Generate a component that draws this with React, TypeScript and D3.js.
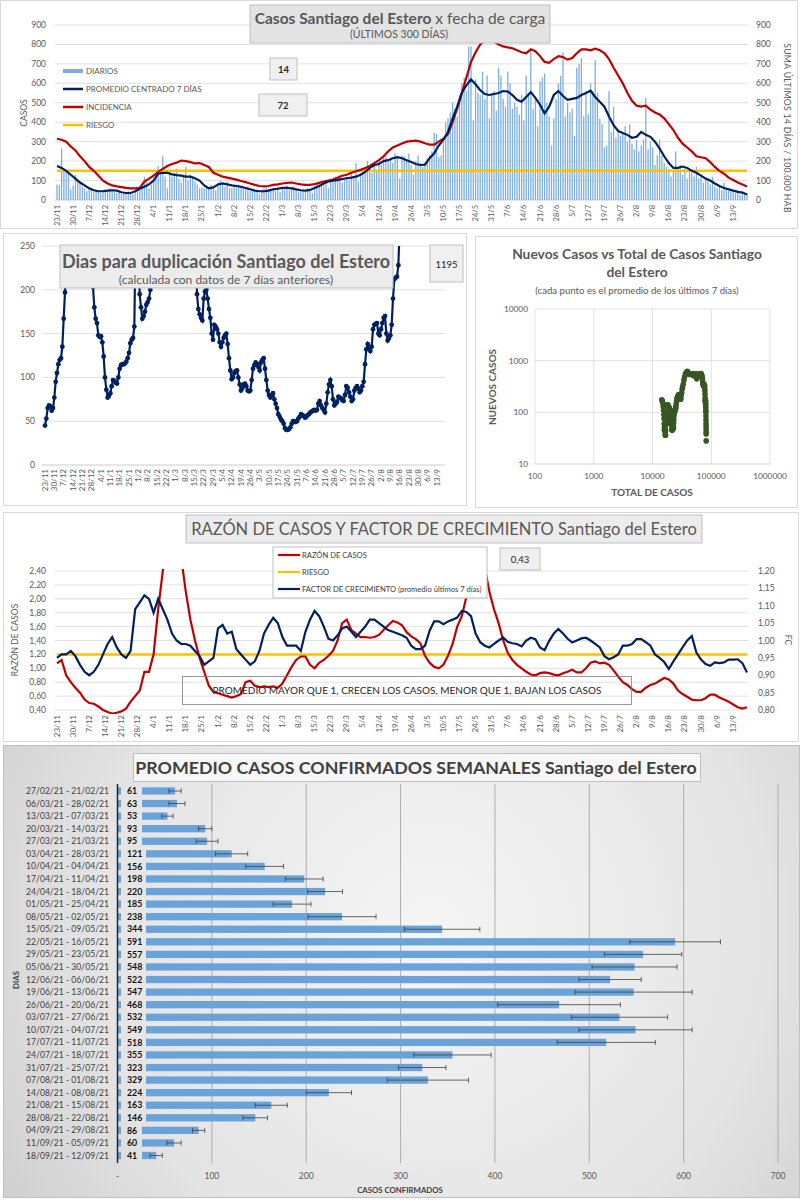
import * as d3 from 'd3';

// día 0 = 23/11/2020
const START = new Date(2020, 10, 23);

// casos diarios por fecha de carga (día 0..300)
const dailyCases = [
  80, 75, 265, 150, 145, 140, 55,
  75, 130, 100, 85, 70, 60, 45,
  60, 55, 40, 50, 45, 35, 40,
  55, 50, 60, 45, 40, 35, 50,
  30, 40, 35, 45, 40, 30, 45,
  50, 55, 70, 120, 95, 60, 80,
  100, 125, 175, 160, 225, 120, 60,
  150, 120, 140, 160, 110, 90, 130,
  170, 100, 130, 120, 95, 80, 60,
  65, 60, 75, 55, 80, 60, 50,
  90, 100, 85, 70, 95, 60, 60,
  75, 65, 80, 70, 60, 55, 70,
  45, 55, 40, 50, 30, 45, 60,
  65, 55, 50, 60, 45, 70, 40,
  60, 55, 75, 50, 65, 70, 55,
  40, 50, 55, 45, 60, 50, 35,
  70, 85, 80, 95, 75, 100, 60,
  110, 95, 120, 100, 130, 90, 105,
  120, 100, 140, 110, 190, 95, 125,
  150, 170, 200, 160, 140, 180, 155,
  200, 180, 220, 230, 195, 215, 190,
  240, 220, 110, 230, 225, 210, 240,
  180, 130, 200, 230, 190, 170, 195,
  215, 230, 250, 345, 340, 220, 230,
  300, 400, 420, 450, 500, 470, 430,
  540, 600, 630, 560, 790, 790, 410,
  620, 550, 540, 660, 520, 640, 420,
  550, 560, 460, 680, 640, 520, 480,
  660, 600, 470, 500, 480, 440, 540,
  410, 640, 550, 770, 470, 520, 380,
  610, 630, 650, 500, 430, 280, 420,
  520, 600, 640, 760, 430, 500, 450,
  470, 330, 680, 700, 730, 430, 560,
  440, 600, 560, 720, 550, 420, 390,
  270, 280, 560, 350, 480, 320, 360,
  330, 350, 380, 300, 390, 290, 260,
  310, 250, 280, 310, 525, 260, 300,
  270, 180, 230, 310, 230, 190, 170,
  160, 120, 150, 250, 170, 180, 130,
  160, 110, 150, 140, 120, 170, 110,
  120, 90, 110, 100, 80, 120, 70,
  60, 70, 50, 90, 60, 50, 55,
  40, 35, 50, 25, 45, 30, 35,
];

// promedio centrado 7 días (cada 2 días, día 0..300)
const avg7 = [
  175, 165, 150, 130, 110, 90, 75, 60, 50, 45, 45, 48, 50, 48, 40, 36, 36, 45, 58, 68,
  80, 100, 135, 140, 140, 132, 128, 125, 120, 120, 112, 100, 75, 60, 65, 80, 85, 80, 75, 72,
  68, 62, 55, 48, 45, 45, 48, 55, 58, 62, 62, 60, 55, 50, 48, 52, 62, 72, 85, 95,
  100, 102, 108, 112, 115, 120, 130, 145, 165, 180, 185, 200, 205, 215, 220, 215, 205, 195, 185, 180,
  182, 215, 240, 280, 310, 350, 420, 480, 550, 590, 620, 595, 565, 545, 540, 545, 550, 560, 558, 540,
  515, 505, 530, 555, 525, 490, 445, 480, 540, 560, 535, 515, 520, 525, 540, 550, 562, 530, 505, 480,
  430, 385, 355, 345, 335, 320, 325, 350, 335, 325, 300, 265, 225, 190, 165, 165, 172, 165, 150, 140,
  125, 110, 100, 85, 72, 62, 55, 48, 42, 38, 28,
];

// incidencia: suma últimos 14 días / 100.000 hab (cada 2 días)
const incidence = [
  315, 310, 300, 275, 255, 225, 200, 170, 150, 125, 100, 85, 75, 70, 66, 62, 60, 60, 62, 95,
  110, 125, 145, 160, 175, 185, 192, 203, 200, 195, 188, 190, 180, 170, 140, 130, 120, 115, 110, 105,
  98, 92, 85, 78, 72, 70, 72, 78, 80, 85, 88, 90, 85, 80, 78, 78, 82, 88, 95, 100,
  105, 115, 125, 130, 140, 148, 155, 165, 175, 190, 205, 225, 250, 270, 280, 290, 300, 303, 305, 300,
  292, 285, 285, 300, 315, 340, 400, 470, 550, 630, 710, 760, 800, 820, 830, 815, 800, 790, 785, 780,
  770, 760, 755, 775, 765, 740, 710, 705, 725, 740, 735, 722, 730, 755, 775, 775, 770, 778, 770, 755,
  725, 680, 640, 600, 550, 510, 485, 480, 485, 465, 450, 440, 420, 390, 360, 320, 290, 270, 250, 225,
  220, 215, 195, 170, 150, 135, 115, 103, 90, 80, 70,
];
const riskIncidence = 150;

// días para duplicación (diario, día 0..266)
const doublingDays = [
  45, 53, 65, 68, 67, 62, 65, 77, 95, 105, 115, 120, 122, 135, 167, 197, 230,
  280, 320, 360, 400, 450, 500, 550, 600, 620, 600, 560, 520, 480, 440, 400, 360, 320, 290,
  255, 203, 180, 167, 162, 148, 146, 147, 140, 124, 100, 86, 77, 79, 82, 90, 97, 96, 94, 93,
  100, 110, 114, 115, 115, 116, 118, 122, 128, 139, 143, 145, 158, 270,
  300, 260, 195, 180, 167, 170, 175, 183, 186, 190, 200, 270,
  300, 340, 380, 420, 460, 500, 540, 580, 620, 660, 700, 720, 740, 760, 780, 800, 800,
  780, 760, 720, 680, 640, 600, 560, 520, 480, 440, 400, 360, 330, 300, 280, 260,
  195, 178, 172, 168, 165, 190, 198, 200, 190, 178, 168, 150, 143, 160, 158, 155, 150, 140,
  135, 140, 145, 148, 150, 138, 122, 108, 98, 100, 105, 107, 108, 100, 92, 85, 88, 92,
  93, 90, 85, 84, 85, 97, 110, 114, 117, 115, 112, 108, 117, 120, 122, 110, 97, 85,
  80, 77, 80, 82, 75, 70, 65, 58, 55, 52, 50, 47, 42, 40, 40, 41, 43, 47, 50, 50,
  49, 50, 53, 55, 58, 57, 56, 54, 55, 57, 58, 60, 61, 62, 63, 62, 63, 70, 73, 68,
  65, 63, 60, 70, 83, 92, 97, 90, 75, 68, 70, 72, 78, 77, 76, 74, 73, 80, 90, 88,
  83, 78, 73, 75, 85, 88, 90, 87, 83, 85, 90, 95, 115, 132, 138, 134, 130, 135, 155, 160,
  161, 162, 150, 148, 155, 162, 168, 170, 150, 142, 145, 148, 160, 190, 212, 214, 215, 228, 270,
];

// razón de casos (eje izq.) y factor de crecimiento (eje der.), cada 2 días
const caseRatio = [
  1.07, 1.12, 0.9, 0.8, 0.72, 0.65, 0.55, 0.5, 0.49, 0.45, 0.4, 0.37, 0.35, 0.36, 0.38, 0.42, 0.52, 0.6, 0.68, 0.95,
  0.95, 1.2, 1.85, 2.4, 2.9, 3.1, 3.0, 2.6, 2.1, 1.7, 1.4, 1.15, 0.95, 0.75, 0.66, 0.64, 0.62, 0.6, 0.58, 0.6,
  0.63, 0.8, 0.82, 0.75, 0.73, 0.74, 0.73, 0.74, 0.72, 0.78, 0.9, 1.02, 1.12, 1.17, 1.17, 1.05, 1.0, 1.08, 1.12, 1.18,
  1.25, 1.4, 1.65, 1.7, 1.55, 1.5, 1.45, 1.45, 1.44, 1.45, 1.48, 1.55, 1.62, 1.68, 1.66, 1.62, 1.52, 1.46, 1.42, 1.36,
  1.18, 1.08, 1.02, 1.0, 1.05, 1.18, 1.35, 1.6, 1.75, 2.03, 2.2, 2.45, 2.55, 2.45, 2.1, 1.85, 1.65, 1.4, 1.22, 1.12,
  1.05, 1.0, 0.95, 0.91, 0.9, 0.93, 0.94, 0.93, 0.91, 0.9, 0.93, 0.95, 0.98, 0.94, 0.94, 1.0, 1.08, 1.1, 1.07, 1.08,
  1.05, 0.97, 0.88, 0.8, 0.76, 0.7, 0.66, 0.66, 0.72, 0.76, 0.78, 0.82, 0.86, 0.84, 0.78, 0.68, 0.63, 0.59, 0.55, 0.54,
  0.54, 0.57, 0.62, 0.62, 0.58, 0.55, 0.52, 0.48, 0.44, 0.42, 0.44,
];
const growthFactor = [
  0.95, 0.96, 0.96, 0.97, 0.955, 0.93, 0.91, 0.9, 0.91, 0.93, 0.96, 0.99, 1.01, 0.98, 0.96, 0.95, 0.97, 1.09, 1.11, 1.13,
  1.12, 1.08, 1.12, 1.09, 1.06, 1.02, 1.0, 0.99, 0.99, 0.985, 0.97, 0.955, 0.93, 0.94, 0.95, 1.035, 1.045, 1.02, 1.025, 0.975,
  0.96, 0.945, 0.93, 0.94, 0.97, 1.02, 1.045, 1.065, 1.05, 1.01, 0.985, 0.985, 0.985, 0.97, 1.025, 1.06, 1.085, 1.07, 1.04, 1.005,
  1.0, 1.015, 1.035, 1.04, 1.025, 1.01, 1.025, 1.04, 1.06, 1.06, 1.05, 1.04, 1.03, 1.025, 1.02, 1.015, 1.008, 0.985, 0.975, 0.975,
  0.985, 1.028, 1.055, 1.055, 1.047, 1.055, 1.06, 1.066, 1.085, 1.082, 1.07, 1.02, 0.995, 0.985, 0.98, 0.99, 1.0, 1.008, 0.996, 0.992,
  0.99, 0.983, 1.0, 1.008, 1.004, 0.98, 0.972, 0.999, 1.02, 1.033, 1.02, 1.005, 0.994, 1.0, 1.006, 1.008, 1.0, 0.99, 0.98, 0.955,
  0.946, 0.952, 0.96, 0.985, 0.985, 0.99, 1.004, 1.004, 0.995, 0.985, 0.96, 0.95, 0.938, 0.918, 0.94, 0.96, 0.98, 1.0, 1.013, 0.965,
  0.945, 0.932, 0.927, 0.937, 0.935, 0.937, 0.945, 0.945, 0.946, 0.935, 0.908,
];
const riskRatio = 1.2;

// promedio semanal de casos confirmados
const weekLabels = [
  '27/02/21 - 21/02/21', '06/03/21 - 28/02/21', '13/03/21 - 07/03/21', '20/03/21 - 14/03/21',
  '27/03/21 - 21/03/21', '03/04/21 - 28/03/21', '10/04/21 - 04/04/21', '17/04/21 - 11/04/21',
  '24/04/21 - 18/04/21', '01/05/21 - 25/04/21', '08/05/21 - 02/05/21', '15/05/21 - 09/05/21',
  '22/05/21 - 16/05/21', '29/05/21 - 23/05/21', '05/06/21 - 30/05/21', '12/06/21 - 06/06/21',
  '19/06/21 - 13/06/21', '26/06/21 - 20/06/21', '03/07/21 - 27/06/21', '10/07/21 - 04/07/21',
  '17/07/21 - 11/07/21', '24/07/21 - 18/07/21', '31/07/21 - 25/07/21', '07/08/21 - 01/08/21',
  '14/08/21 - 08/08/21', '21/08/21 - 15/08/21', '28/08/21 - 22/08/21', '04/09/21 - 29/08/21',
  '11/09/21 - 05/09/21', '18/09/21 - 12/09/21',
];
const weekAvg = [61, 63, 53, 93, 95, 121, 156, 198, 220, 185, 238, 344, 591, 557, 548, 522, 547, 468, 532, 549, 518, 355, 323, 329, 224, 163, 146, 86, 60, 41];
const weekErr = [6.5, 8.5, 6, 7, 11.5, 17, 20, 20, 18.5, 20, 36, 40, 48, 41, 45, 33, 62, 65, 51, 60, 52, 41, 25, 43, 24, 17, 13, 6.5, 7.5, 6.5];

const tickDays = d3.range(0, 295, 7);
const FONT = 'Lato, "Open Sans", sans-serif';
const GREY = '#595959';
const NAVY = '#002060';
const RED = '#c00000';
const ORANGE = '#ffc000';

function dayLabel(d: number) {
  const dt = d3.timeDay.offset(START, d);
  return `${dt.getDate()}/${dt.getMonth() + 1}`;
}

function DateTicks({ x, y, size = 7.5 }: { x: (d: number) => number; y: number; size?: number }) {
  return (
    <g fontSize={size} fill={GREY}>
      {tickDays.map((d) => (
        <text key={d} transform={`translate(${x(d) + 2.5},${y}) rotate(-90)`} textAnchor="end">
          {dayLabel(d)}
        </text>
      ))}
    </g>
  );
}

function Box({ x, y, w, h, fill = '#f0f0f0', stroke = '#bfbfbf' }: any) {
  return <rect x={x} y={y} width={w} height={h} fill={fill} stroke={stroke} strokeWidth={1} />;
}

function CasesPanel() {
  const x = d3.scaleLinear().domain([0, 300]).range([57, 747]);
  const y = d3.scaleLinear().domain([0, 900]).range([200, 25]);
  const line = d3.line<number>().x((_, i) => x(i * 2)).y((v) => y(v));
  const ticks = d3.range(0, 901, 100);
  return (
    <g>
      <rect x={0.5} y={0.5} width={797} height={228} fill="#fff" stroke="#d9d9d9" />
      <defs>
        <clipPath id="clip1">
          <rect x={50} y={24} width={705} height={180} />
        </clipPath>
      </defs>
      {ticks.map((t) => (
        <g key={t}>
          <line x1={55} x2={748} y1={y(t)} y2={y(t)} stroke={t === 0 ? '#bfbfbf' : '#d9d9d9'} strokeWidth={0.8} />
          <text x={46} y={y(t) + 3} textAnchor="end" fontSize={8.5} fill={GREY}>{t}</text>
          <text x={756} y={y(t) + 3} fontSize={8.5} fill={GREY}>{t}</text>
        </g>
      ))}
      <g clipPath="url(#clip1)">
        {dailyCases.map((v, d) => (
          <rect key={d} x={x(d) - 0.65} y={y(v)} width={1.3} height={y(0) - y(v)} fill="#7fb0dd" />
        ))}
        <line x1={x(0)} x2={x(300)} y1={y(riskIncidence)} y2={y(riskIncidence)} stroke={ORANGE} strokeWidth={2.5} />
        <path d={line(incidence) ?? ''} fill="none" stroke={RED} strokeWidth={2.2} />
        <path d={line(avg7) ?? ''} fill="none" stroke={NAVY} strokeWidth={2.2} />
      </g>
      <DateTicks x={x} y={205} />
      <text transform="translate(27,113) rotate(-90)" textAnchor="middle" fontSize={8.5} fill={GREY}>CASOS</text>
      <text transform="translate(784,128) rotate(90)" textAnchor="middle" fontSize={8.7} fill={GREY} letterSpacing={0.3}>
        SUMA  ÚLTIMOS 14 DÍAS / 100.000 HAB
      </text>
      <Box x={250} y={5} w={300} h={38} fill="#e3e3e3" />
      <text x={400} y={24} textAnchor="middle" fontSize={15.5} fill={GREY}>
        <tspan fontWeight="bold">Casos Santiago del Estero</tspan>
        <tspan>{' x fecha de carga'}</tspan>
      </text>
      <text x={399} y={38} textAnchor="middle" fontSize={10.5} fill={GREY}>(ÚLTIMOS 300 DÍAS)</text>
      <g fontSize={8} fill={GREY}>
        <rect x={63} y={69} width={20} height={4} fill="#7fb0dd" />
        <text x={86} y={74}>DIARIOS</text>
        <line x1={63} x2={83} y1={89} y2={89} stroke={NAVY} strokeWidth={2.5} />
        <text x={86} y={92}>PROMEDIO CENTRADO 7 DÍAS</text>
        <line x1={63} x2={83} y1={107} y2={107} stroke={RED} strokeWidth={2.5} />
        <text x={86} y={110}>INCIDENCIA</text>
        <line x1={63} x2={83} y1={125} y2={125} stroke={ORANGE} strokeWidth={2.5} />
        <text x={86} y={128}>RIESGO</text>
      </g>
      <Box x={270} y={58} w={27} h={22} />
      <text x={283.5} y={73} textAnchor="middle" fontSize={9.5} fontWeight="bold" fill="#262626">14</text>
      <Box x={259} y={94} w={48} h={22} />
      <text x={283} y={109} textAnchor="middle" fontSize={9.5} fontWeight="bold" fill="#262626">72</text>
    </g>
  );
}

function DoublingPanel() {
  const x = d3.scaleLinear().domain([0, 294]).range([45, 437]);
  const y = d3.scaleLinear().domain([0, 250]).range([465, 246]);
  const line = d3.line<number>().x((_, i) => x(i)).y((v) => y(v));
  return (
    <g>
      <rect x={3.5} y={233.5} width={463} height={272} fill="#fff" stroke="#d9d9d9" />
      <defs>
        <clipPath id="clip2">
          <rect x={38} y={246} width={410} height={222} />
        </clipPath>
      </defs>
      {d3.range(0, 251, 50).map((t) => (
        <g key={t}>
          <line x1={42} x2={445} y1={y(t)} y2={y(t)} stroke={t === 0 ? '#bfbfbf' : '#d9d9d9'} strokeWidth={0.8} />
          <text x={35} y={y(t) + 3} textAnchor="end" fontSize={8.5} fill={GREY}>{t}</text>
        </g>
      ))}
      <g clipPath="url(#clip2)">
        <path d={line(doublingDays) ?? ''} fill="none" stroke={NAVY} strokeWidth={2.2} />
        {doublingDays.map((v, i) => (
          <circle key={i} cx={x(i)} cy={y(v)} r={2.4} fill={NAVY} />
        ))}
      </g>
      <DateTicks x={x} y={469} size={8} />
      <Box x={60} y={245} w={333} h={43} fill="#ececec" />
      <text x={226} y={268} textAnchor="middle" fontSize={18} fontWeight="bold" fill={GREY}>
        Dias para duplicación Santiago del Estero
      </text>
      <text x={226} y={284} textAnchor="middle" fontSize={12} fill={GREY}>
        (calculada con datos de 7 días anteriores)
      </text>
      <Box x={430} y={245} w={33} h={37} />
      <text x={446.5} y={268} textAnchor="middle" fontSize={9.5} fill="#262626">1195</text>
    </g>
  );
}

function ScatterPanel() {
  const x = d3.scaleLog().domain([100, 1e6]).range([535, 770]);
  const y = d3.scaleLog().domain([10, 1e4]).range([464, 309]);
  const totals = d3.cumsum(dailyCases).map((v) => v + 14300);
  const pts = avg7.map((v, i) => [totals[Math.min(i * 2, totals.length - 1)], v]);
  const xt = [100, 1000, 10000, 100000, 1000000];
  const yt = [10, 100, 1000, 10000];
  return (
    <g>
      <rect x={475.5} y={236.5} width={322} height={271} fill="#fff" stroke="#d9d9d9" />
      {xt.map((t) => (
        <g key={t}>
          <line x1={x(t)} x2={x(t)} y1={y(1e4)} y2={y(10)} stroke="#d9d9d9" strokeWidth={0.8} />
          <text x={x(t)} y={479} textAnchor="middle" fontSize={8.3} fill={GREY}>{t}</text>
        </g>
      ))}
      {yt.map((t) => (
        <g key={t}>
          <line x1={x(100)} x2={x(1e6)} y1={y(t)} y2={y(t)} stroke={t === 10 ? '#bfbfbf' : '#d9d9d9'} strokeWidth={0.8} />
          <text x={528} y={y(t) + 3} textAnchor="end" fontSize={8.3} fill={GREY}>{t}</text>
        </g>
      ))}
      {pts.map(([tx, ty], i) => (
        <circle key={i} cx={x(tx)} cy={y(ty)} r={2.8} fill="#375623" />
      ))}
      <text x={637} y={259} textAnchor="middle" fontSize={13.8} fontWeight="bold" fill={GREY}>
        Nuevos Casos vs Total de Casos Santiago
      </text>
      <text x={637} y={277} textAnchor="middle" fontSize={13.8} fontWeight="bold" fill={GREY}>del Estero</text>
      <text x={637} y={294} textAnchor="middle" fontSize={9.6} fill={GREY}>
        (cada punto es el promedio de los últimos 7 días)
      </text>
      <text x={652} y={496} textAnchor="middle" fontSize={10} fontWeight="bold" fill={GREY}>TOTAL DE CASOS</text>
      <text transform="translate(496,387) rotate(-90)" textAnchor="middle" fontSize={10} fontWeight="bold" fill={GREY}>
        NUEVOS CASOS
      </text>
    </g>
  );
}

function RatioPanel() {
  const x = d3.scaleLinear().domain([0, 300]).range([57, 747]);
  const yl = d3.scaleLinear().domain([0.4, 2.4]).range([710, 571]);
  const yr = d3.scaleLinear().domain([0.8, 1.2]).range([710, 571]);
  const lineL = d3.line<number>().x((_, i) => x(i * 2)).y((v) => yl(v));
  const lineR = d3.line<number>().x((_, i) => x(i * 2)).y((v) => yr(v));
  const fmt = (v: number) => v.toFixed(2).replace('.', ',');
  return (
    <g>
      <rect x={3.5} y={512.5} width={795} height={229} fill="#fff" stroke="#d9d9d9" />
      <defs>
        <clipPath id="clip4">
          <rect x={50} y={569} width={705} height={145} />
        </clipPath>
      </defs>
      {d3.range(0.4, 2.41, 0.2).map((t) => (
        <g key={t}>
          <line x1={55} x2={748} y1={yl(t)} y2={yl(t)} stroke="#d9d9d9" strokeWidth={0.8} />
          <text x={46} y={yl(t) + 3} textAnchor="end" fontSize={8.5} fill={GREY}>{fmt(t)}</text>
        </g>
      ))}
      {d3.range(0.8, 1.201, 0.05).map((t) => (
        <text key={t} x={758} y={yr(t) + 3} fontSize={8.5} fill={GREY}>{fmt(t)}</text>
      ))}
      <g clipPath="url(#clip4)">
        <line x1={x(0)} x2={x(300)} y1={yl(riskRatio)} y2={yl(riskRatio)} stroke={ORANGE} strokeWidth={2.5} />
        <path d={lineL(caseRatio) ?? ''} fill="none" stroke={RED} strokeWidth={2.2} />
        <path d={lineR(growthFactor) ?? ''} fill="none" stroke={NAVY} strokeWidth={2.2} />
      </g>
      <DateTicks x={x} y={715} size={8} />
      <text transform="translate(18,640) rotate(-90)" textAnchor="middle" fontSize={8.5} fill={GREY}>RAZÓN DE CASOS</text>
      <text transform="translate(785,640) rotate(90)" textAnchor="middle" fontSize={8.5} fill={GREY}>FC</text>
      <rect x={182.5} y={676.5} width={449} height={28} fill="none" stroke="#7f7f7f" strokeWidth={0.8} />
      <text x={407} y={694} textAnchor="middle" fontSize={10} fill="#262626">
        PROMEDIO MAYOR QUE 1, CRECEN LOS CASOS, MENOR QUE 1, BAJAN LOS CASOS
      </text>
      <Box x={186} y={515} w={516} h={28} fill="#ececec" />
      <text x={444} y={535} textAnchor="middle" fontSize={16.5} fill={GREY}>
        RAZÓN DE CASOS Y FACTOR DE CRECIMIENTO Santiago del Estero
      </text>
      <Box x={273} y={547} w={214} h={51} fill="#fff" />
      <g fontSize={7.6} fill="#404040">
        <line x1={278} x2={300} y1={555} y2={555} stroke={RED} strokeWidth={2.2} />
        <text x={302} y={558}>RAZÓN DE CASOS</text>
        <line x1={278} x2={300} y1={572} y2={572} stroke={ORANGE} strokeWidth={2.2} />
        <text x={302} y={575}>RIESGO</text>
        <line x1={278} x2={300} y1={589} y2={589} stroke={NAVY} strokeWidth={2.2} />
        <text x={302} y={592}>FACTOR DE CRECIMIENTO (promedio últimos 7 días)</text>
      </g>
      <Box x={500} y={548} w={40} h={22} />
      <text x={520} y={562.5} textAnchor="middle" fontSize={9.5} fill="#262626">0,43</text>
    </g>
  );
}

function WeeklyPanel() {
  const x = d3.scaleLinear().domain([0, 700]).range([117.5, 778]);
  const y = d3.scaleBand<string>().domain(weekLabels).range([784.7, 1161.8]).paddingInner(0.42).paddingOuter(0.21);
  const bh = y.bandwidth();
  return (
    <g>
      <defs>
        <radialGradient id="bg5" gradientUnits="userSpaceOnUse" cx={430} cy={930} r={560}>
          <stop offset="0" stopColor="#f5f5f5" />
          <stop offset="0.6" stopColor="#e4e4e4" />
          <stop offset="1" stopColor="#c9c9c9" />
        </radialGradient>
      </defs>
      <rect x={3.5} y={745.5} width={796} height={452} fill="url(#bg5)" stroke="#bfbfbf" />
      {d3.range(100, 701, 100).map((t) => (
        <line key={t} x1={x(t)} x2={x(t)} y1={784} y2={1163} stroke="#a6a6a6" strokeWidth={0.9} />
      ))}
      {weekLabels.map((lab, i) => {
        const yc = (y(lab) ?? 0) + bh / 2;
        const v = weekAvg[i];
        const e = weekErr[i];
        const labW = v >= 100 ? 25 : 21;
        return (
          <g key={lab}>
            <text x={109} y={yc + 3} textAnchor="end" fontSize={8.6} fill="#404040">{lab}</text>
            <rect x={x(0)} y={yc - bh / 2} width={x(v) - x(0)} height={bh} fill="#6aa2da" />
            <rect x={x(0) + 3.5} y={yc - bh / 2 - 1} width={labW} height={bh + 2} fill="url(#bg5)" />
            <text x={127} y={yc + 3.2} fontSize={8.8} fontWeight="bold" fill="#111">{v}</text>
            <g stroke="#404040" strokeWidth={0.8}>
              <line x1={x(v - e)} x2={x(v + e)} y1={yc} y2={yc} />
              <line x1={x(v - e)} x2={x(v - e)} y1={yc - 2.5} y2={yc + 2.5} />
              <line x1={x(v + e)} x2={x(v + e)} y1={yc - 2.5} y2={yc + 2.5} />
            </g>
          </g>
        );
      })}
      <line x1={x(0)} x2={x(0)} y1={784} y2={1163} stroke="#262626" strokeWidth={1.5} />
      {d3.range(0, 701, 100).map((t) => (
        <text key={t} x={x(t)} y={1179} textAnchor="middle" fontSize={8.5} fill={GREY}>{t === 0 ? '-' : t}</text>
      ))}
      <text x={400} y={1193} textAnchor="middle" fontSize={7.8} fontWeight="bold" fill="#404040">CASOS CONFIRMADOS</text>
      <text transform="translate(19,980) rotate(-90)" textAnchor="middle" fontSize={7.8} fontWeight="bold" fill="#404040">DIAS</text>
      <rect x={133.5} y={753.5} width={567} height={28} fill="#f7f7f7" stroke="#bfbfbf" />
      <text x={416} y={774} textAnchor="middle" fontSize={17.8} fontWeight="bold" fill="#404040">
        PROMEDIO CASOS CONFIRMADOS SEMANALES Santiago del Estero
      </text>
    </g>
  );
}

export default function App() {
  return (
    <svg
      width={803}
      height={1200}
      style={{ position: 'absolute', left: 0, top: 0, background: '#fff' }}
      fontFamily={FONT}
    >
      <CasesPanel />
      <DoublingPanel />
      <ScatterPanel />
      <RatioPanel />
      <WeeklyPanel />
    </svg>
  );
}
